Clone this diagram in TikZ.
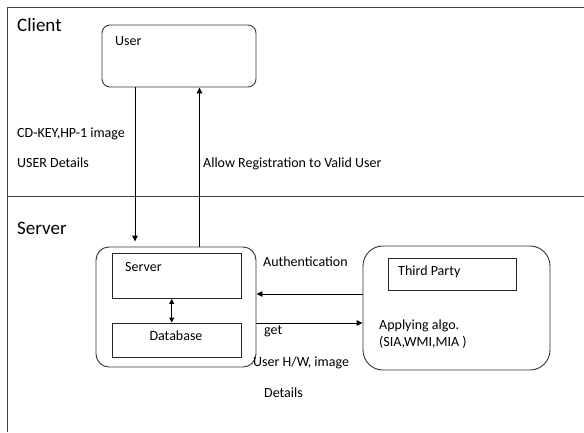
\documentclass[tikz,border=0pt]{standalone}
\usepackage{fontspec}
\setmainfont{Carlito}
\usetikzlibrary{arrows.meta,positioning,calc}

\tikzset{
  frame/.style={draw=black!75, line width=1pt},
  rbox/.style={draw=black!80, rounded corners=#1, line width=0.9pt, inner sep=0pt},
  pbox/.style={draw=black!85, line width=0.9pt, inner sep=0pt},
  txt/.style={font=\fontsize{14}{16}\selectfont, inner sep=0pt, anchor=base west},
  title/.style={font=\fontsize{19}{22}\selectfont, inner sep=0pt, anchor=base west},
  arr/.style={-{Triangle[length=6pt,width=5.5pt]}, line width=0.9pt},
  darr/.style={{Triangle[length=5pt,width=5pt]}-{Triangle[length=5pt,width=5pt]}, line width=0.9pt},
}

\begin{document}
\begin{tikzpicture}[x=1pt,y=-1pt]
    \useasboundingbox (0,0) rectangle (584,432);

    % Frame and separator
    \draw[frame] (7.5,432) -- (7.5,7.5) -- (584,7.5);
    \draw[frame] (7.5,196) -- (584,196);

    % Client side
    \node[title] (client) at (17,31) {Client};
    \node[rbox=8, minimum width=154pt, minimum height=62pt] (user) at (179,56) {};
    \node[txt] (usertxt) at (115,45) {User};
    \node[txt] (cdkey) at (17,137) {CD-KEY,HP-1 image};
    \node[txt] (udet) at (17,167) {USER Details};
    \node[txt] (allow) at (203,167) {Allow Registration to Valid User};

    % Server side
    \node[title] (server) at (17,234) {Server};
    \node[rbox=13, minimum width=160pt, minimum height=120pt] (srvout) at (176,307) {};
    \node[pbox, minimum width=129pt, minimum height=45pt] (srvin) at (176.5,276) {};
    \node[txt] (srvtxt) at (125,271) {Server};
    \node[pbox, minimum width=129pt, minimum height=34pt] (db) at (176.5,340) {};
    \node[txt, anchor=base] (dbtxt) at (176,340) {Database};

    % Third party
    \node[rbox=20, minimum width=187pt, minimum height=124pt] (third) at (456.5,308) {};
    \node[pbox, minimum width=128pt, minimum height=32pt] (tpin) at (452,274) {};
    \node[txt] (tptxt) at (398,275) {Third Party};
    \node[txt] (algo) at (379,329) {Applying algo.};
    \node[txt] (algos) at (379,346) {(SIA,WMI,MIA )};

    % Labels between server and third party
    \node[txt] (auth) at (263,266) {Authentication};
    \node[txt] (get) at (264,334) {get};
    \node[txt] (uhw) at (253,366) {User H/W, image};
    \node[txt] (det) at (264,397) {Details};

    % Connectors
    \coordinate (dnx) at (135,0);
    \coordinate (upx) at (199.5,0);
    \coordinate (authy) at (0,294);
    \coordinate (gety) at (0,323);
    \draw[arr, shorten >=5pt] (user.south -| dnx) -- (srvout.north -| dnx);
    \draw[arr] (srvout.north -| upx) -- (user.south -| upx);
    \draw[arr] (third.west |- authy) -- (srvout.east |- authy);
    \draw[arr] (srvout.east |- gety) -- (third.west |- gety);
    \draw[darr] (srvin.south -| 171.7,0) -- (db.north -| 171.7,0);
\end{tikzpicture}
\end{document}
